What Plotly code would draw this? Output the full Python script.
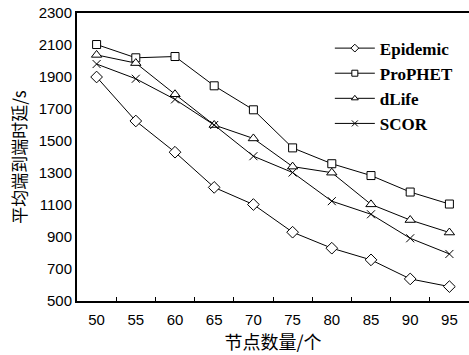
import plotly.graph_objects as go

nodes = [50, 55, 60, 65, 70, 75, 80, 85, 90, 95]
between = [52.5, 57.5, 62.5, 67.5, 72.5, 77.5, 82.5, 87.5, 92.5]
epidemic = [1900, 1625, 1430, 1210, 1103, 930, 830, 757, 638, 590]
prophet = [2103, 2020, 2028, 1845, 1695, 1457, 1358, 1284, 1181, 1106]
dlife = [2038, 1987, 1792, 1600, 1516, 1340, 1302, 1104, 1006, 928]
scor = [1981, 1889, 1760, 1600, 1405, 1303, 1124, 1042, 892, 794]

series = [
    ("Epidemic", epidemic, "diamond", 9),
    ("ProPHET", prophet, "square", 8),
    ("dLife", dlife, "triangle-up", 9),
    ("SCOR", scor, "x-thin", 8),
]

fig = go.Figure()
for name, vals, sym, sz in series:
    fig.add_trace(go.Scatter(
        x=nodes, y=vals, mode="lines+markers", showlegend=False,
        line=dict(color="black", width=1),
        marker=dict(symbol=sym, size=sz, color="white",
                    line=dict(color="black", width=1)),
    ))
for name, vals, sym, sz in series:
    fig.add_trace(go.Scatter(
        x=[None], y=[None], mode="lines+markers", name=name,
        line=dict(color="black", width=1),
        marker=dict(symbol=sym, size=6, color="white",
                    line=dict(color="black", width=1)),
    ))

fig.update_layout(
    width=469, height=355,
    margin=dict(l=77, r=0, t=13, b=54),
    plot_bgcolor="white", paper_bgcolor="white",
    font=dict(family="Liberation Sans, Arial", size=15, color="black"),
    showlegend=True,
    legend=dict(x=0.645, y=0.939, xanchor="left", yanchor="top",
                font=dict(family="Liberation Serif, Times New Roman", size=17, color="black", weight="bold"),
                bgcolor="rgba(0,0,0,0)", itemwidth=40, tracegroupgap=0),
    xaxis=dict(range=[47.5, 97.5], tickmode="array", tickvals=nodes, ticks="", showgrid=False,
               showline=True, linecolor="black", linewidth=2, mirror=True,
               zeroline=False, ticklabelstandoff=4,
               minor=dict(tickmode="array", tickvals=between, ticks="inside",
                          ticklen=4, tickwidth=1, tickcolor="black", showgrid=False),
               title=dict(text="节点数量/个", standoff=6,
                          font=dict(family="Noto Sans CJK SC", size=18))),
    yaxis=dict(range=[500, 2300], dtick=200, tick0=500, ticks="", showgrid=False,
               showline=True, linecolor="black", linewidth=2, zeroline=False,
               title=dict(text="平均端到端时延/s", standoff=8,
                          font=dict(family="Noto Sans CJK SC", size=17))),
)

fig.write_html("out.html")
